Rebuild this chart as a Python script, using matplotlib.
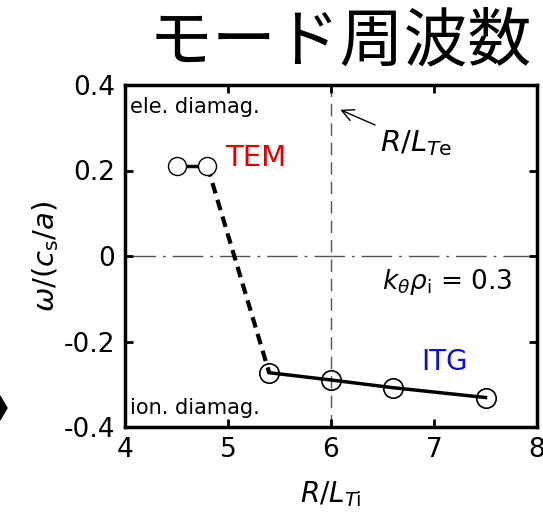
import numpy as np
import matplotlib.pyplot as plt
from matplotlib.patches import Polygon

plt.rcParams['font.family'] = ['DejaVu Sans', 'Noto Sans CJK JP']
plt.rcParams['mathtext.fontset'] = 'dejavusans'

# mode frequency vs ion temperature gradient
tem_x = [4.5, 4.8]
tem_w = [0.21, 0.21]
itg_x = [5.4, 6.0, 6.6, 7.5]
itg_w = [-0.273, -0.29, -0.308, -0.331]
r_lte = 6.0
x_ticks = [4, 5, 6, 7, 8]
y_ticks = [-0.4, -0.2, 0.0, 0.2, 0.4]
y_ticklabels = ["-0.4", "-0.2", "0", "0.2", "0.4"]

fig = plt.figure(figsize=(5.43, 5.18), dpi=100)
ax = fig.add_axes([125 / 543, 1 - 427 / 518, 412 / 543, 342 / 518])

ax.axvline(r_lte, color="#555555", lw=1.0, dashes=(9, 5), zorder=1)
ax.axhline(0, color="#555555", lw=1.0, dashes=(22, 5, 2, 5), zorder=1)

# TEM branch, transition, ITG branch
ax.plot(tem_x, tem_w, color="black", lw=2.5, zorder=2)
ax.plot([tem_x[-1], itg_x[0]], [tem_w[-1], itg_w[0]], color="black",
        lw=3, dashes=(2.6, 1.6), zorder=2)
ax.plot(itg_x, itg_w, color="black", lw=2.5, zorder=2)
ax.plot(tem_x, tem_w, "o", ms=13, mfc="white", mec="black", mew=1.0, zorder=3)
ax.plot(itg_x, itg_w, "o", ms=14, mfc="none", mec="black", mew=1.2, zorder=3)

ax.set_xlim(4, 8)
ax.set_ylim(-0.4, 0.4)
ax.set_xticks(x_ticks)
ax.set_yticks(y_ticks)
ax.set_yticklabels(y_ticklabels)
ax.tick_params(direction="in", length=6, width=2, labelsize=19, pad=7,
               top=True, right=True)
for s in ax.spines.values():
    s.set_linewidth(2.5)

ax.set_xlabel(r"$R/L_{T\mathrm{i}}$", fontsize=20, labelpad=12)
ax.set_ylabel(r"$\omega/(c_\mathrm{s}/a)$", fontsize=21, labelpad=2)

ax.text(4.05, 0.349, "ele. diamag.", fontsize=15, va="center", ha="left")
ax.text(4.05, -0.356, "ion. diamag.", fontsize=15, va="center", ha="left")
ax.text(4.97, 0.229, "TEM", fontsize=21, color="#e00000", va="center", ha="left")
ax.text(6.88, -0.248, "ITG", fontsize=20, color="#1010d0", va="center", ha="left")
ax.text(6.5, -0.06, r"$k_\theta\rho_\mathrm{i}$ = 0.3", fontsize=19,
        va="center", ha="left")
ax.annotate(r"$R/L_{T\mathrm{e}}$", xy=(6.09, 0.342), xytext=(6.48, 0.264),
            fontsize=21, va="center", ha="left",
            arrowprops=dict(arrowstyle="->", color="black", lw=1.0,
                            shrinkA=2, shrinkB=0))

fig.text(340 / 543, 1 - 42 / 518, "モード周波数", fontsize=46,
         family=["Noto Sans CJK JP"], ha="center", va="center")

# clipped marker at the left edge
fig.patches.append(Polygon([[-8 / 543, 1 - 408 / 518], [0, 1 - 396 / 518],
                            [7 / 543, 1 - 408 / 518], [0, 1 - 420 / 518]],
                           closed=True, color="black",
                           transform=fig.transFigure, figure=fig))

fig.savefig("out.png", dpi=100)
